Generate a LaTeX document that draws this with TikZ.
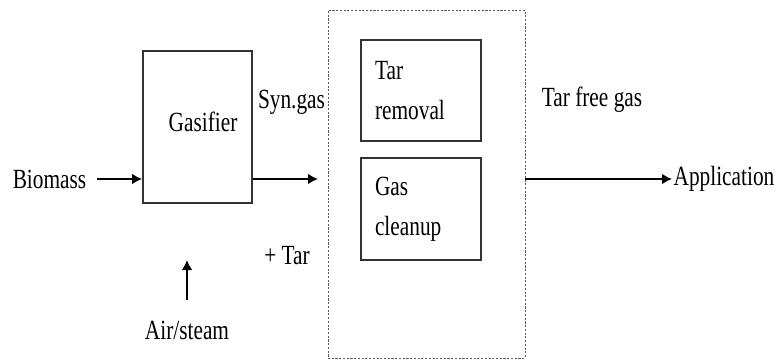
\documentclass[tikz,border=0pt]{standalone}
\usepackage{fontspec}
\setmainfont{Liberation Serif}
\usetikzlibrary{positioning, arrows.meta}
\newcommand\tall[1]{\scalebox{1}[1.3]{#1}}
\tikzset{
    procbox/.style={draw=black!80, line width=1.3pt, inner sep=0pt},
    stepbox/.style={draw=black!80, line width=1.3pt, minimum width=90pt, minimum height=76pt, text width=69pt, align=left, inner sep=0pt},
    unitbox/.style={draw=black!65, line width=0.6pt, dash pattern=on 1.6pt off 1.2pt, minimum width=147.75pt, minimum height=261pt},
    lbl/.style={inner sep=1pt},
    flow/.style={->, line width=1.3pt}
}

\begin{document}
\begin{tikzpicture}[x=0.75pt, y=-0.75pt, >={Latex[length=7.5pt, width=8pt]}, font=\fontsize{16}{30}\selectfont]
  \useasboundingbox (0,0) rectangle (779,360);
  \node(gasifier)[procbox, minimum width=81.75pt, minimum height=114pt] at (197.5,127){};
  \node(gtext)[lbl] at (203,122){\tall{Gasifier}};
  \node(biomass)[lbl] at (49.5,179){\tall{Biomass}};
  \node(syngas)[lbl] at (291.5,102){\tall{Syn.gas}};
  \node(tar)[lbl] at (287,256){\tall{+ Tar}};
  \node(air)[lbl] at (187,330){\tall{Air/steam}};
  \node(unit)[unitbox] at (426.5,184){};
  \node(removal)[stepbox] at (421,90.5){\tall{Tar}\\\tall{removal}};
  \node(cleanup)[stepbox] at (421,209){\tall{Gas}\\\tall{cleanup}};
  \node(free)[lbl] at (592,100){\tall{Tar free gas}};
  \node(app)[lbl] at (724,179){\tall{Application}};
  \coordinate(synend) at (318,179);
  \coordinate(airtip) at (187,260);
  \draw[flow, shorten <=7pt](biomass.east)--(biomass -| gasifier.west);
  \draw[flow](gasifier.east |- synend)--(synend);
  \draw[flow, shorten <=14pt](air.north)--(airtip);
  \draw[flow](unit.east |- app)--(app.west);
\end{tikzpicture}
\end{document}
